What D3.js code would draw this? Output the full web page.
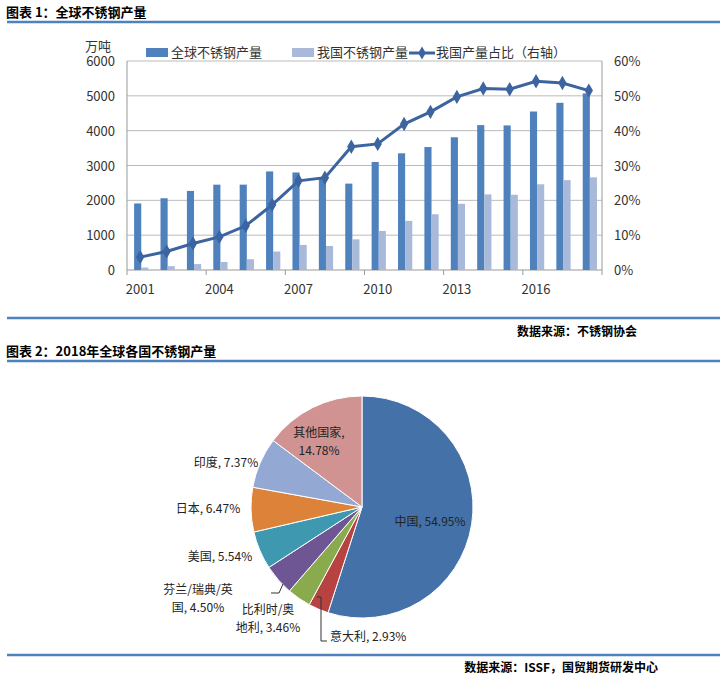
<!DOCTYPE html>
<html><head><meta charset="utf-8">
<script src="https://cdn.jsdelivr.net/npm/d3@7"></script>
<style>body{margin:0;background:#fff}svg{font-family:"Noto Sans CJK SC","Liberation Sans",sans-serif}</style>
</head><body><svg id="c" width="726" height="678"></svg>
<script>
const years=[2001,2002,2003,2004,2005,2006,2007,2008,2009,2010,2011,2012,2013,2014,2015,2016,2017,2018];
const world=[1910,2060,2270,2450,2450,2830,2800,2620,2480,3100,3350,3530,3810,4160,4150,4550,4800,5070];
const china=[70,110,170,230,310,530,720,690,880,1120,1410,1600,1900,2170,2160,2460,2580,2660];
const share=[3.7,5.3,7.6,9.5,12.7,18.7,25.6,26.5,35.4,36.2,41.9,45.4,49.7,52.1,51.9,54.2,53.7,51.5];
const leftTicks=[0,1000,2000,3000,4000,5000,6000];
const rightTicks=[0,10,20,30,40,50,60];
const pieNames=["中国","意大利","比利时/奥地利","芬兰/瑞典/英国","美国","日本","印度","其他国家"];
const pieVals=[54.95,2.93,3.46,4.50,5.54,6.47,7.37,14.78];
const pieColors=["#4472a8","#b64341","#8aab4d","#6e5594","#3e98b0","#dd8339","#93a9d3","#d19391"];

const svg=d3.select("#c");
const blue="#4f81bd";
[[7,22],[7,318],[7,361],[7,655]].forEach(([x,y])=>svg.append("line").attr("x1",x).attr("x2",720).attr("y1",y).attr("y2",y).attr("stroke",blue).attr("stroke-width",2.5));
svg.append("text").attr("x",6).attr("y",17).attr("font-size",13).attr("font-weight","bold").text("图表 1：全球不锈钢产量");
svg.append("text").attr("x",6).attr("y",356).attr("font-size",13).attr("font-weight","bold").text("图表 2：2018年全球各国不锈钢产量");
svg.append("text").attr("x",637).attr("y",336).attr("text-anchor","end").attr("font-size",12).attr("font-weight","bold").text("数据来源：不锈钢协会");
svg.append("text").attr("x",658).attr("y",672).attr("text-anchor","end").attr("font-size",12).attr("font-weight","bold").text("数据来源：ISSF，国贸期货研发中心");

// chart 1
const L=127,R=602,T=61,B=270;
const x=d3.scaleBand().domain(years).range([L,R]);
const y=d3.scaleLinear().domain([0,6000]).range([B,T]);
const y2=d3.scaleLinear().domain([0,60]).range([B,T]);
const g=svg.append("g").attr("font-size",13).attr("fill","#333");
leftTicks.forEach(t=>{ if(t>0) g.append("line").attr("x1",L).attr("x2",R).attr("y1",y(t)).attr("y2",y(t)).attr("stroke","#bbb");
 g.append("text").attr("x",L-12).attr("y",y(t)+5).attr("text-anchor","end").text(t);});
rightTicks.forEach(t=>g.append("text").attr("x",R+12).attr("y",y2(t)+5).text(t+"%"));
g.append("line").attr("x1",L).attr("x2",L).attr("y1",T).attr("y2",B).attr("stroke","#999");
g.append("line").attr("x1",R).attr("x2",R).attr("y1",T).attr("y2",B).attr("stroke","#999");
g.append("line").attr("x1",L).attr("x2",R).attr("y1",B).attr("y2",B).attr("stroke","#999");
years.forEach((yr,i)=>{ if(i%3==0){const xx=x(yr);g.append("line").attr("x1",xx).attr("x2",xx).attr("y1",B).attr("y2",B+5).attr("stroke","#999");
 g.append("text").attr("x",x(yr)+x.bandwidth()/2).attr("y",B+24).attr("text-anchor","middle").text(yr);}});
g.append("line").attr("x1",R).attr("x2",R).attr("y1",B).attr("y2",B+5).attr("stroke","#999");
g.append("text").attr("x",85).attr("y",51).attr("font-size",13).text("万吨");
const bw=x.bandwidth();
g.selectAll(".w").data(years).enter().append("rect").attr("x",d=>x(d)+bw*0.27).attr("width",bw*0.27).attr("y",(d,i)=>y(world[i])).attr("height",(d,i)=>B-y(world[i])).attr("fill","#4f81bd");
g.selectAll(".c").data(years).enter().append("rect").attr("x",d=>x(d)+bw*0.54).attr("width",bw*0.27).attr("y",(d,i)=>y(china[i])).attr("height",(d,i)=>B-y(china[i])).attr("fill","#a9b9d9");
const line=d3.line().x((d,i)=>x(years[i])+bw/2).y(d=>y2(d));
g.append("path").attr("d",line(share)).attr("fill","none").attr("stroke","#3b64a0").attr("stroke-width",3);
g.selectAll(".m").data(share).enter().append("path").attr("d",d3.symbol(d3.symbolDiamond,60)).attr("transform",(d,i)=>`translate(${x(years[i])+bw/2},${y2(d)})`).attr("fill","#3b64a0");
// legend
const lg=svg.append("g").attr("font-size",13).attr("fill","#333");
lg.append("rect").attr("x",146).attr("y",48).attr("width",22).attr("height",9).attr("fill","#4f81bd");
lg.append("text").attr("x",171).attr("y",57).text("全球不锈钢产量");
lg.append("rect").attr("x",292).attr("y",48).attr("width",22).attr("height",9).attr("fill","#a9b9d9");
lg.append("text").attr("x",317).attr("y",57).text("我国不锈钢产量");
lg.append("line").attr("x1",409).attr("x2",435).attr("y1",53).attr("y2",53).attr("stroke","#3b64a0").attr("stroke-width",3);
lg.append("path").attr("d",d3.symbol(d3.symbolDiamond,50)).attr("transform","translate(422,53)").attr("fill","#3b64a0");
lg.append("text").attr("x",436).attr("y",57).text("我国产量占比（右轴）");

// pie
const cx=362,cy=507,r=111;
const arcs=d3.pie().sort(null).value(d=>d)(pieVals);
const arc=d3.arc().innerRadius(0).outerRadius(r);
const pg=svg.append("g").attr("transform",`translate(${cx},${cy})`);
pg.selectAll("path").data(arcs).enter().append("path").attr("d",arc).attr("fill",(d,i)=>pieColors[i]).attr("stroke","#fff").attr("stroke-width",1);
const pl=svg.append("g").attr("font-size",12).attr("fill","#222");
const labs=[[["中国, 54.95%"],430,526,"middle"],[["意大利, 2.93%"],330,641,"start"],[["比利时/奥","地利, 3.46%"],268,614,"middle"],[["芬兰/瑞典/英","国, 4.50%"],198,594,"middle"],[["美国, 5.54%"],220,561,"middle"],[["日本, 6.47%"],208,513,"middle"],[["印度, 7.37%"],226,467,"middle"],[["其他国家,","14.78%"],319,437,"middle"]];
labs.forEach(([ls,lx,ly,a])=>ls.forEach((s,k)=>pl.append("text").attr("x",lx).attr("y",ly+k*18).attr("text-anchor",a).text(s)));
svg.append("polyline").attr("points","317,597 321,597 321,641 327,641").attr("fill","none").attr("stroke","#333");
svg.append("polyline").attr("points","271,593 279,593 283,584").attr("fill","none").attr("stroke","#333");
</script></body></html>
